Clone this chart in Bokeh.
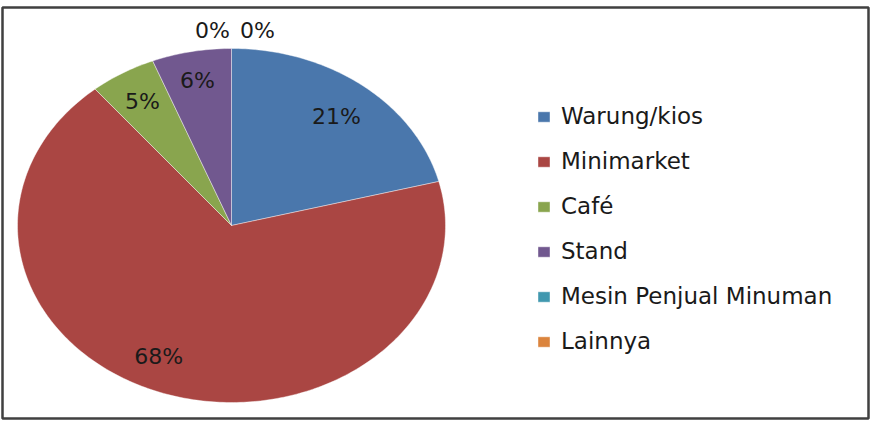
import numpy as np
from bokeh.plotting import figure
from bokeh.models import Range1d, Legend, LegendItem, ColumnDataSource
from bokeh.core.properties import value
from bokeh.embed import file_html
from bokeh.resources import INLINE

# ---- data ----
categories = ["Warung/kios", "Minimarket", "Café", "Stand", "Mesin Penjual Minuman", "Lainnya"]
values = [21, 68, 5, 6, 0, 0]
pct_labels = ["21%", "68%", "5%", "6%", "0%", "0%"]
colors = ["#4A77AC", "#AA4643", "#89A54E", "#71588F", "#4198AF", "#DB843D"]

FONT = "DejaVu Sans"

# frame placed so that the outline matches the box in the picture
p = figure(width=873, height=426, output_backend="svg", toolbar_location=None,
           x_axis_type=None, y_axis_type=None,
           x_range=Range1d(-229 / 214, (866 - 229) / 214),
           y_range=Range1d(-(411 - 218) / 177, 218 / 177),
           min_border_left=2, min_border_right=5, min_border_top=7, min_border_bottom=8)
p.grid.visible = False
p.outline_line_color = "#404040"
p.outline_line_width = 2.5
p.background_fill_color = "white"
p.border_fill_color = "white"

total = float(sum(values))
fracs = np.array(values, dtype=float) / total
ends = np.cumsum(fracs) * 2 * np.pi
starts = ends - fracs * 2 * np.pi

renderers = []
for cat, s, e, col in zip(categories, starts, ends, colors):
    if e - s > 0:
        n = max(int((e - s) / (2 * np.pi) * 400), 3)
        t = np.linspace(s, e, n)
        xs = np.concatenate([[0.0], np.sin(t), [0.0]])
        ys = np.concatenate([[0.0], np.cos(t), [0.0]])
    else:
        xs = np.array([0.0, 0.0])
        ys = np.array([0.0, 0.0])
    r = p.patch(xs, ys, fill_color=col, line_color="white", line_width=0.6, line_alpha=0.7)
    renderers.append(r)

# percentage labels
mids = (starts + ends) / 2
lab_r = np.where(np.array(values) > 0, 0.8, 1.1)
x_off = [0, -20, -2, -2, -19, 26]
y_off = [3, -4, -2, -6, 0, 0]
src = ColumnDataSource(dict(x=lab_r * np.sin(mids), y=lab_r * np.cos(mids),
                            text=pct_labels, xo=x_off, yo=y_off))
p.text(x="x", y="y", text="text", x_offset="xo", y_offset="yo", source=src,
       text_font=value(FONT), text_font_size="22px", text_color="#1a1a1a",
       text_align="center", text_baseline="middle")

legend = Legend(items=[LegendItem(label=c, renderers=[r]) for c, r in zip(categories, renderers)],
                location=(534, 64), orientation="vertical",
                glyph_width=15, glyph_height=13, label_height=24, spacing=19,
                label_standoff=10, padding=0, margin=0,
                border_line_color=None, background_fill_alpha=0,
                label_text_font=FONT, label_text_font_size="23px", label_text_color="#1a1a1a")
p.add_layout(legend)

open("out.html", "w").write(file_html(p, INLINE))
